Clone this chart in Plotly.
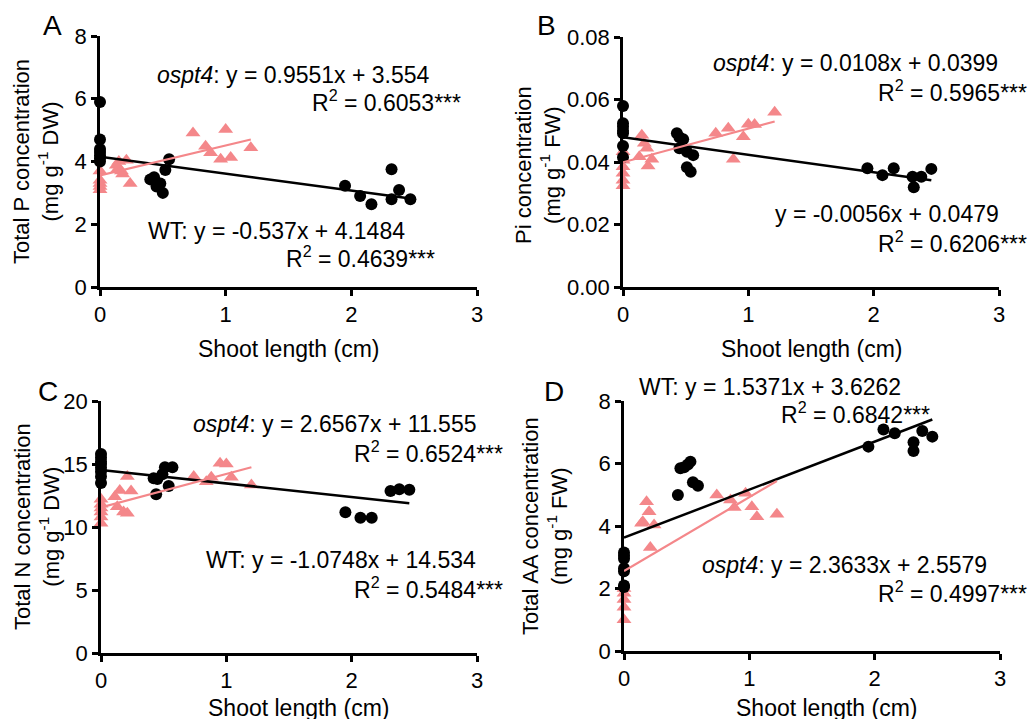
import plotly.graph_objects as go

W, H = 1030, 719
FONT = "Arial, Liberation Sans, sans-serif"
BLACK = "#000000"
PINK = "#F4878A"

# ---------------- data ----------------
# Panel A: Total P concentration
A_wt_x = [0, 0, 0, 0, 0, 0, 0, 0.40, 0.43, 0.45, 0.48, 0.50, 0.52, 0.55, 1.95, 2.07, 2.16, 2.32, 2.32, 2.38, 2.47]
A_wt_y = [5.9, 4.7, 4.4, 4.3, 4.2, 4.1, 4.0, 3.43, 3.5, 3.2, 3.3, 3.0, 3.73, 4.07, 3.23, 2.9, 2.64, 3.75, 2.8, 3.09, 2.8]
A_mu_x = [0, 0, 0, 0, 0, 0.13, 0.14, 0.17, 0.18, 0.15, 0.21, 0.24, 0.74, 0.84, 0.88, 0.96, 1.0, 1.04, 1.2]
A_mu_y = [3.7, 3.4, 3.3, 3.2, 3.1, 3.88, 3.75, 3.7, 3.6, 4.0, 4.04, 3.3, 4.91, 4.49, 4.28, 4.07, 5.02, 4.13, 4.44]

# Panel B: Pi concentration
B_wt_x = [0, 0, 0, 0, 0, 0, 0, 0.43, 0.45, 0.48, 0.45, 0.51, 0.56, 0.51, 0.54, 1.95, 2.07, 2.16, 2.31, 2.32, 2.38, 2.46]
B_wt_y = [0.0579, 0.0524, 0.0513, 0.0500, 0.0492, 0.0451, 0.0415, 0.0492, 0.0479, 0.0473, 0.0444, 0.0433, 0.0422,
          0.0383, 0.0369, 0.038, 0.0358, 0.038, 0.0353, 0.0319, 0.0353, 0.0378]
B_mu_x = [0, 0, 0, 0, 0, 0, 0.13, 0.15, 0.17, 0.19, 0.20, 0.23, 0.74, 0.84, 0.88, 0.96, 1.0, 1.05, 1.21]
B_mu_y = [0.0433, 0.0406, 0.0385, 0.0364, 0.0342, 0.0324, 0.0417, 0.0486, 0.046, 0.0444, 0.0387, 0.0409,
          0.0492, 0.0508, 0.0409, 0.0481, 0.0521, 0.052, 0.0559]

# Panel C: Total N concentration
C_wt_x = [0, 0, 0, 0, 0, 0, 0, 0, 0.42, 0.45, 0.44, 0.49, 0.51, 0.54, 0.57, 1.95, 2.07, 2.16, 2.31, 2.38, 2.46]
C_wt_y = [15.8, 15.5, 15.2, 15.0, 14.7, 14.4, 14.0, 13.5, 13.86, 13.8, 12.6, 14.18, 14.74, 13.25, 14.74,
          11.17, 10.74, 10.74, 12.86, 13.0, 12.95]
C_mu_x = [0, 0, 0, 0, 0, 0, 0.11, 0.13, 0.15, 0.18, 0.21, 0.21, 0.24, 0.74, 0.84, 0.88, 0.95, 1.0, 1.04, 1.2]
C_mu_y = [12.2, 11.8, 11.5, 11.2, 10.8, 10.3, 12.4, 11.6, 12.9, 11.2, 11.1, 14.0, 12.86,
          14.0, 13.6, 13.94, 15.05, 15.0, 13.94, 13.33]

# Panel D: Total AA concentration
D_wt_x = [0, 0, 0, 0, 0, 0, 0, 0.43, 0.45, 0.48, 0.51, 0.53, 0.55, 0.59, 1.95, 2.07, 2.16, 2.31, 2.31, 2.38, 2.46]
D_wt_y = [3.15, 3.05, 2.95, 2.65, 2.55, 2.1, 2.05, 4.99, 5.85, 5.88, 5.97, 6.06, 5.4, 5.29,
          6.54, 7.09, 6.97, 6.68, 6.4, 7.04, 6.86]
D_mu_x = [0, 0, 0, 0, 0, 0.14, 0.15, 0.18, 0.20, 0.21, 0.24, 0.74, 0.85, 0.88, 0.97, 1.02, 1.06, 1.22]
D_mu_y = [2.0, 1.85, 1.65, 1.4, 1.0, 4.09, 4.14, 4.78, 4.46, 3.31, 4.03, 4.99, 4.83, 4.59, 5.05, 4.62, 4.3, 4.38]

# regression coefficients (slope, intercept) as printed
A_wt_fit, A_mu_fit = (-0.537, 4.1484), (0.9551, 3.554)
B_wt_fit, B_mu_fit = (-0.0056, 0.0479), (0.0108, 0.0399)
C_wt_fit, C_mu_fit = (-1.0748, 14.534), (2.6567, 11.555)
D_wt_fit, D_mu_fit = (1.5371, 3.6262), (2.3633, 2.5579)

x_ticks = [0, 1, 2, 3]
A_yticks = [0, 2, 4, 6, 8]
B_yticks = [0.00, 0.02, 0.04, 0.06, 0.08]
C_yticks = [0, 5, 10, 15, 20]
D_yticks = [0, 2, 4, 6, 8]

y_titles = ["Total P concentration<br>(mg g<sup>-1</sup> DW)",
            "Pi concentration<br>(mg g<sup>-1</sup> FW)",
            "Total N concentration<br>(mg g<sup>-1</sup> DW)",
            "Total AA concentration<br>(mg g<sup>-1</sup> FW)"]
x_title = "Shoot length (cm)"
letters = ["A", "B", "C", "D"]

# ---------------- layout geometry (pixels) ----------------
boxes = [(100, 477, 36, 287), (623, 999, 37, 287), (101, 477, 401, 653), (624, 1000, 401, 651)]


def px(x):
    return x / W


def py(y):
    return 1 - y / H


fig = go.Figure()

panels = [
    (A_wt_x, A_wt_y, A_mu_x, A_mu_y, A_wt_fit, A_mu_fit, A_yticks, None),
    (B_wt_x, B_wt_y, B_mu_x, B_mu_y, B_wt_fit, B_mu_fit, B_yticks, ".2f"),
    (C_wt_x, C_wt_y, C_mu_x, C_mu_y, C_wt_fit, C_mu_fit, C_yticks, None),
    (D_wt_x, D_wt_y, D_mu_x, D_mu_y, D_wt_fit, D_mu_fit, D_yticks, None),
]

for i, (wx, wy, mx, my, wfit, mfit, yt, yfmt) in enumerate(panels):
    n = "" if i == 0 else str(i + 1)
    xa, ya = "x" + n, "y" + n
    fig.add_trace(go.Scatter(x=mx, y=my, mode="markers", xaxis=xa, yaxis=ya, cliponaxis=False,
                             marker=dict(symbol="triangle-up", size=13, color=PINK), showlegend=False))
    fig.add_trace(go.Scatter(x=wx, y=wy, mode="markers", xaxis=xa, yaxis=ya, cliponaxis=False,
                             marker=dict(symbol="circle", size=12, color=BLACK), showlegend=False))
    wxr = [0, max(wx)]
    mxr = [0, max(mx)]
    fig.add_trace(go.Scatter(x=wxr, y=[wfit[0] * v + wfit[1] for v in wxr], mode="lines",
                             xaxis=xa, yaxis=ya, line=dict(color=BLACK, width=2.5), showlegend=False))
    fig.add_trace(go.Scatter(x=mxr, y=[mfit[0] * v + mfit[1] for v in mxr], mode="lines",
                             xaxis=xa, yaxis=ya, line=dict(color=PINK, width=2.2), showlegend=False))
    x0, x1, y0, y1 = boxes[i]
    common = dict(showline=True, linewidth=2.5, linecolor=BLACK, ticks="outside", ticklen=6,
                  tickwidth=2.5, tickcolor=BLACK, showgrid=False, zeroline=False, automargin=False,
                  tickfont=dict(family=FONT, size=22, color=BLACK))
    fig.layout["xaxis" + n] = dict(domain=[px(x0), px(x1)], range=[0, 3], tickvals=x_ticks,
                                   anchor=ya, **common)
    yaxis = dict(domain=[py(y1), py(y0)], range=[yt[0], yt[-1]], tickvals=yt, anchor=xa, **common)
    if yfmt:
        yaxis["tickformat"] = yfmt
    fig.layout["yaxis" + n] = yaxis

ann = []


def text(x, y, s, size=23, anchor="right", angle=0):
    ann.append(dict(x=px(x), y=py(y), xref="paper", yref="paper", text=s, showarrow=False,
                    xanchor=anchor, yanchor="middle", textangle=angle,
                    font=dict(family=FONT, size=size, color=BLACK)))


# panel letters
for (lx, ly), L in zip([(52, 25), (546, 25), (48, 391), (554, 391)], letters):
    text(lx, ly, L, size=28, anchor="center")

# y titles
for (tx, ty), t in zip([(36, 162), (538, 165), (37, 527), (545, 526)], y_titles):
    text(tx, ty, t, size=22, anchor="center", angle=-90)

# x titles
for (tx, ty) in [(289, 349), (812, 349), (299, 708), (827, 708)]:
    text(tx, ty, x_title, anchor="center")

# equations
text(432, 75, "<i>ospt4</i>: y = 0.9551x + 3.554")
text(463, 101, "R<sup>2</sup> = 0.6053***")
text(407, 231, "WT: y = -0.537x + 4.1484")
text(437, 257, "R<sup>2</sup> = 0.4639***")

text(1000, 63, "<i>ospt4</i>: y = 0.0108x + 0.0399")
text(1029, 91, "R<sup>2</sup> = 0.5965***")
text(1001, 214, "y = -0.0056x + 0.0479")
text(1029, 242, "R<sup>2</sup> = 0.6206***")

text(478, 424, "<i>ospt4</i>: y = 2.6567x + 11.555")
text(505, 452, "R<sup>2</sup> = 0.6524***")
text(478, 560, "WT: y = -1.0748x + 14.534")
text(505, 588, "R<sup>2</sup> = 0.5484***")

text(903, 387, "WT: y = 1.5371x + 3.6262")
text(932, 413, "R<sup>2</sup> = 0.6842***")
text(989, 565, "<i>ospt4</i>: y = 2.3633x + 2.5579")
text(1029, 592, "R<sup>2</sup> = 0.4997***")

fig.update_layout(width=W, height=H, margin=dict(l=0, r=0, t=0, b=0, autoexpand=False),
                  paper_bgcolor="white", plot_bgcolor="white", annotations=ann,
                  font=dict(family=FONT, size=23, color=BLACK))

fig.write_html("out.html", config={"displayModeBar": False},
               post_script="document.body.style.margin='0';document.body.style.overflow='hidden';")
